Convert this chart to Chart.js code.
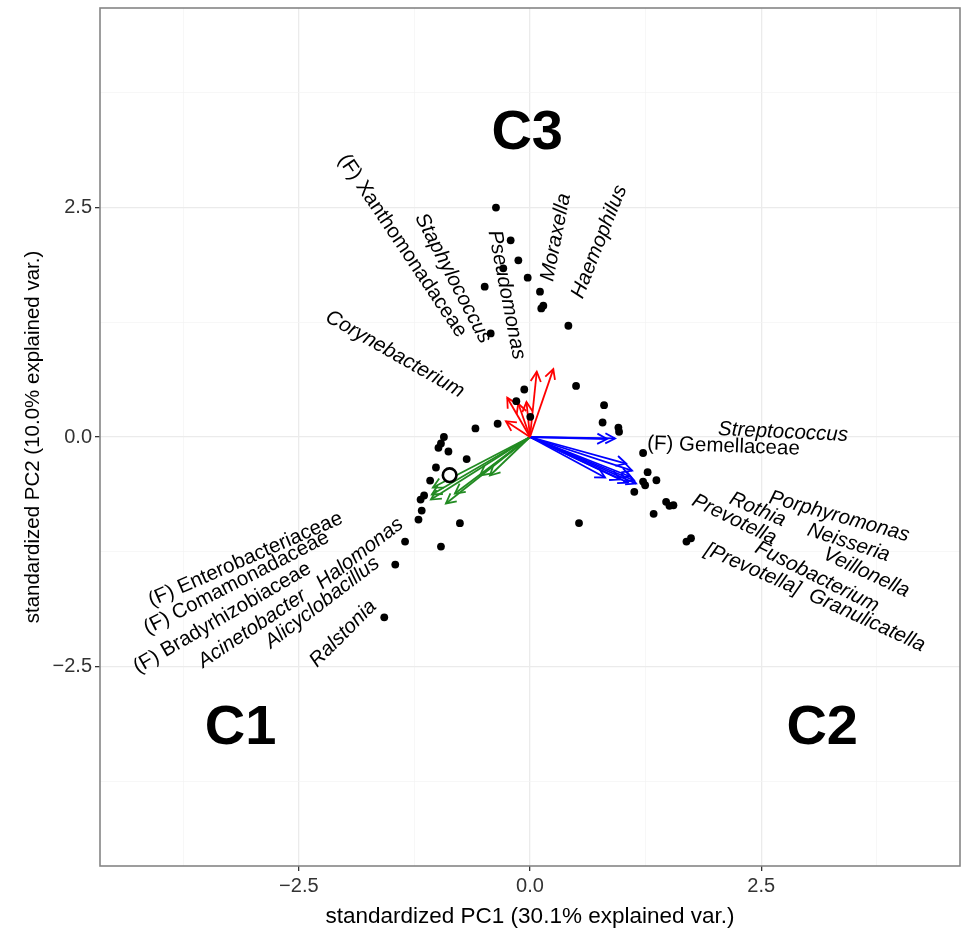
<!DOCTYPE html>
<html>
<head>
<meta charset="utf-8">
<script src="https://cdn.jsdelivr.net/npm/chart.js@4.4.0/dist/chart.umd.min.js"></script>
<style>
  html, body { margin: 0; padding: 0; background: #fff; }
</style>
</head>
<body>
<canvas id="canvas" width="961" height="934"></canvas>
<script>
// sample scores (standardized PC1 / PC2)
var sampleX = [-0.368,-0.209,-0.126,-0.289,-0.025,-0.490,0.108,0.144,0.122,0.415,-0.425,-0.062,-0.148,0.003,0.498,0.801,0.785,0.956,0.963,-0.350,
  -0.590,-0.931,-0.963,-0.990,-0.882,-0.685,-1.017,-1.080,-1.145,-1.183,-1.171,-1.206,-0.758,-1.351,-0.963,-1.457,-1.576,0.530,1.223,1.272,
  1.367,1.223,1.245,1.128,1.472,1.508,1.551,1.337,1.692,1.741];
var sampleY = [2.497,2.141,1.923,1.836,1.734,1.636,1.582,1.429,1.400,1.211,1.127,0.517,0.390,0.220,0.556,0.346,0.158,0.103,0.057,0.144,
  0.093,0.000,-0.071,-0.118,-0.158,-0.240,-0.332,-0.474,-0.637,-0.681,-0.801,-0.899,-0.938,-1.138,-1.193,-1.389,-1.963,-0.937,-0.174,-0.383,
  -0.471,-0.485,-0.525,-0.597,-0.706,-0.749,-0.743,-0.836,-1.138,-1.102];
// the highlighted sample (open circle)
var highlightX = [-0.869];
var highlightY = [-0.416];

// taxa loadings, one list per cluster
var c1Taxa = ['(F) Enterobacteriaceae','(F) Comamonadaceae','(F) Bradyrhizobiaceae','Acinetobacter','Halomonas','Alicyclobacillus','Ralstonia'];
var c1X = [-1.050,-1.061,-1.071,-0.909,-0.812,-0.541,-0.433];
var c1Y = [-0.550,-0.626,-0.681,-0.724,-0.616,-0.419,-0.419];

var c2Taxa = ['Streptococcus','(F) Gemellaceae','Porphyromonas','Neisseria','Veillonella','Rothia','Prevotella','Fusobacterium','[Prevotella]','Granulicatella'];
var c2X = [0.920,0.833,1.039,1.104,1.061,1.082,0.974,0.812,1.126,1.147];
var c2Y = [-0.016,-0.022,-0.289,-0.365,-0.496,-0.430,-0.463,-0.441,-0.474,-0.507];

var c3Taxa = ['(F) Xanthomonadaceae','Staphylococcus','Pseudomonas','Moraxella','Haemophilus','Corynebacterium'];
var c3X = [-0.246,-0.127,-0.038,0.073,0.252,-0.260];
var c3Y = [0.427,0.365,0.381,0.710,0.739,0.172];

var clusterNames = ['C1','C2','C3'];
var clusterX = [-3.13, 3.16, -0.03];
var clusterY = [-3.12, -3.12, 3.35];

var majorTicks = [-2.5, 0, 2.5];
var tickLabels = ['\u22122.5', '0.0', '2.5'];
var minorTicks = [-3.75, -1.25, 1.25, 3.75];

// where each taxon name sits (centre, in data units) and its rotation in degrees
var labelPlace = {
  '(F) Xanthomonadaceae': [-1.380, 2.081, 56.2],
  'Staphylococcus': [-0.833, 1.727, 62.6],
  'Pseudomonas': [-0.254, 1.547, 79],
  'Moraxella': [0.281, 2.173, -79],
  'Haemophilus': [0.749, 2.126, -68.3],
  'Corynebacterium': [-1.461, 0.901, 29.8],
  'Streptococcus': [2.736, 0.052, 2.6],
  '(F) Gemellaceae': [2.092, -0.101, 2.1],
  'Porphyromonas': [3.344, -0.866, 15.5],
  'Neisseria': [3.445, -1.151, 18],
  'Veillonella': [3.636, -1.476, 25],
  'Rothia': [2.462, -0.790, 23.5],
  'Prevotella': [2.208, -0.899, 26],
  'Fusobacterium': [3.103, -1.523, 26.6],
  '[Prevotella]': [2.408, -1.441, 23.7],
  'Granulicatella': [3.644, -1.996, 24.6],
  '(F) Enterobacteriaceae': [-3.076, -1.332, -23.6],
  '(F) Comamonadaceae': [-3.174, -1.587, -27],
  '(F) Bradyrhizobiaceae': [-3.328, -1.968, -30.2],
  'Acinetobacter': [-3.003, -2.086, -33.7],
  'Halomonas': [-1.840, -1.269, -37.6],
  'Alicyclobacillus': [-2.246, -1.805, -37.3],
  'Ralstonia': [-2.021, -2.141, -45]
};

var FONT = '"Liberation Sans", Arial, sans-serif';

function toPoints(xs, ys) {
  return xs.map(function (x, i) { return { x: x, y: ys[i] }; });
}

function arrowSets(xs, ys, color) {
  return xs.map(function (x, i) {
    return {
      data: [{ x: 0, y: 0 }, { x: x, y: ys[i] }],
      showLine: true,
      borderColor: color,
      borderWidth: 1.8,
      pointRadius: 0,
      isArrow: true
    };
  });
}

var datasets = [
  { data: toPoints(highlightX, highlightY), pointRadius: 6.8, borderWidth: 2.6, borderColor: '#000', backgroundColor: '#fff' },
  { data: toPoints(sampleX, sampleY), pointRadius: 3.9, borderWidth: 0, backgroundColor: '#000' }
].concat(arrowSets(c3X, c3Y, '#FF0000'))
 .concat(arrowSets(c2X, c2Y, '#0000FF'))
 .concat(arrowSets(c1X, c1Y, '#228B22'));

var biplotPlugin = {
  id: 'biplot',
  afterDatasetDraw: function (chart, args) {
    var ds = chart.data.datasets[args.index];
    if (!ds.isArrow) return;
    var a = args.meta.data[0], b = args.meta.data[1];
    var ang = Math.atan2(b.y - a.y, b.x - a.x);
    var len = 11, spread = Math.PI / 6.5;
    var ctx = chart.ctx;
    ctx.save();
    ctx.strokeStyle = ds.borderColor;
    ctx.lineWidth = ds.borderWidth;
    ctx.beginPath();
    ctx.moveTo(b.x - len * Math.cos(ang - spread), b.y - len * Math.sin(ang - spread));
    ctx.lineTo(b.x, b.y);
    ctx.lineTo(b.x - len * Math.cos(ang + spread), b.y - len * Math.sin(ang + spread));
    ctx.stroke();
    ctx.restore();
  },
  afterDatasetsDraw: function (chart) {
    var ctx = chart.ctx, xs = chart.scales.x, ys = chart.scales.y;
    ctx.save();
    ctx.fillStyle = '#000';
    ctx.textAlign = 'center';
    ctx.textBaseline = 'middle';
    c1Taxa.concat(c2Taxa, c3Taxa).forEach(function (name) {
      var p = labelPlace[name];
      ctx.save();
      ctx.translate(xs.getPixelForValue(p[0]), ys.getPixelForValue(p[1]));
      ctx.rotate(p[2] * Math.PI / 180);
      ctx.font = (name.indexOf('(F)') === 0 ? '' : 'italic ') + '20.5px ' + FONT;
      ctx.fillText(name, 0, 0);
      ctx.restore();
    });
    // cluster names
    ctx.font = 'bold 56px ' + FONT;
    ctx.textBaseline = 'alphabetic';
    clusterNames.forEach(function (n, i) {
      ctx.fillText(n, xs.getPixelForValue(clusterX[i]), ys.getPixelForValue(clusterY[i]) + 20);
    });
    ctx.restore();
  },
  afterDraw: function (chart) {
    var a = chart.chartArea, ctx = chart.ctx;
    ctx.save();
    ctx.strokeStyle = '#858585';
    ctx.lineWidth = 1.6;
    ctx.strokeRect(a.left, a.top, a.right - a.left, a.bottom - a.top);
    ctx.restore();
  }
};

function isMajor(v) { return majorTicks.indexOf(v) >= 0; }

function axis(min, max, title, titleSize, titlePad, fit) {
  return {
    type: 'linear',
    min: min,
    max: max,
    afterBuildTicks: function (s) {
      s.ticks = majorTicks.concat(minorTicks).sort(function (a, b) { return a - b; })
        .map(function (v) { return { value: v }; });
    },
    afterFit: fit,
    border: { display: false },
    grid: {
      color: function (c) { return c.tick && isMajor(c.tick.value) ? '#EBEBEB' : '#F3F3F3'; },
      lineWidth: function (c) { return c.tick && isMajor(c.tick.value) ? 1.3 : 0.7; },
      tickColor: function (c) { return c.tick && isMajor(c.tick.value) ? '#333' : 'rgba(0,0,0,0)'; },
      tickLength: 5,
      tickWidth: 1.3
    },
    ticks: {
      autoSkip: false,
      maxRotation: 0,
      padding: 3,
      color: '#333',
      font: { family: FONT, size: 20 },
      callback: function (v) {
        var i = majorTicks.indexOf(v);
        return i < 0 ? '' : tickLabels[i];
      }
    },
    title: {
      display: true,
      text: title,
      color: '#000',
      font: { family: FONT, size: titleSize },
      padding: titlePad
    }
  };
}

var ctx = document.getElementById('canvas').getContext('2d');
window.myChart = new Chart(ctx, {
  type: 'scatter',
  data: { datasets: datasets },
  plugins: [biplotPlugin],
  options: {
    responsive: false,
    animation: false,
    devicePixelRatio: 1,
    layout: { autoPadding: false, padding: { top: 8, right: 1, left: 0, bottom: 0 } },
    plugins: { legend: { display: false }, tooltip: { enabled: false } },
    scales: {
      x: axis(-4.65, 4.65, 'standardized PC1 (30.1% explained var.)', 22.5, { top: 4, bottom: 4 },
        function (s) { s.height = 68; s.paddingLeft = 0; s.paddingRight = 0; }),
      y: axis(-4.67, 4.67, 'standardized PC2 (10.0% explained var.)', 20.5, { top: 21, bottom: 4 },
        function (s) { s.width = 100; s.paddingTop = 0; s.paddingBottom = 0; })
    }
  }
});
</script>
</body>
</html>
